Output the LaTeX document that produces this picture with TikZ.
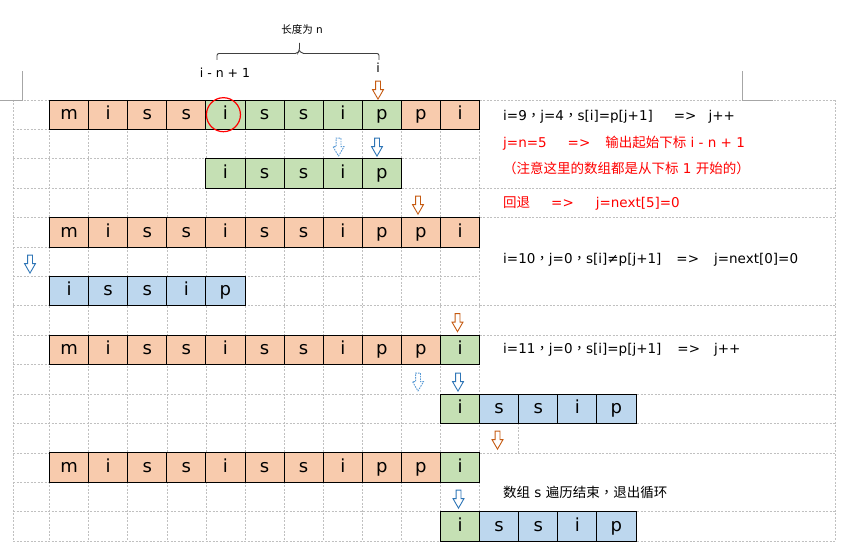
\documentclass[tikz,border=0pt]{standalone}
\usepackage{fontspec}
\setmainfont{DejaVu Sans}
\newfontfamily\cjk{Noto Sans CJK SC}
\newfontfamily\cjktc{Noto Sans CJK TC}
\usetikzlibrary{shapes.arrows}

\definecolor{sorange}{HTML}{F8CBAD}
\definecolor{sgreen}{HTML}{C5E0B4}
\definecolor{pblue}{HTML}{BDD7EE}
\definecolor{arrorange}{HTML}{C55A11}
\definecolor{arrblue}{HTML}{2E75B6}
\definecolor{arrlight}{HTML}{5B9BD5}
\definecolor{gridgray}{HTML}{C0C0C0}

\newcommand{\zhcomma}{{\cjktc ，}}

\tikzset{
  cell/.style={draw, line width=0.9pt, minimum width=39.1pt, minimum height=29.4pt,
    inner sep=0pt, text height=9.8pt, text depth=0pt, font=\fontsize{18}{20}\selectfont},
  downarr/.style={single arrow, draw=#1, fill=white, line width=0.9pt,
    shape border rotate=270, minimum height=18pt, inner sep=2pt,
    single arrow head extend=3pt, single arrow tip angle=60},
  dashedarr/.style={downarr=#1, dash pattern=on 1.6pt off 1pt},
  note/.style={anchor=base west, inner sep=0pt, font=\fontsize{13.5}{16}\selectfont},
  gridline/.style={gridgray, line width=0.6pt, dash pattern=on 2pt off 1.5pt},
  brace/.style={black!75, line width=0.9pt, rounded corners=2pt}
}

% one row of s = mississippi, cells #3..#4 in green
\newcommand{\srow}[4]{%
  \foreach \ch [count=\k from 0] in {m,i,s,s,i,s,s,i,p,p,i} {
    \ifnum\k<#3 \def\fc{sorange}\else\ifnum\k>#4 \def\fc{sorange}\else\def\fc{sgreen}\fi\fi
    \node[cell, fill=\fc] (#1-\k) at (69.05+39.1*\k, #2) {\ch};
  }}

% one row of p = issip from column #3, the first #4 cells in green
\newcommand{\prow}[4]{%
  \foreach \ch [count=\k from 0] in {i,s,s,i,p} {
    \ifnum\k<#4 \def\fc{sgreen}\else\def\fc{pblue}\fi
    \node[cell, fill=\fc] (#1-\k) at (69.05+39.1*#3+39.1*\k, #2) {\ch};
  }}

\begin{document}
\begin{tikzpicture}[x=1pt, y=-1pt]
  \useasboundingbox (0,0) rectangle (844,553);

  % table grid
  \foreach \r in {0,...,15}
    \draw[gridline] (13,100+29.4*\r) -- (479.6,100+29.4*\r);
  \foreach \r in {0,3,4,7,8,10,11,12,14,15}
    \draw[gridline] (479.6,100+29.4*\r) -- (835,100+29.4*\r);
  \foreach \c in {0,...,11}
    \draw[gridline] (49.5+39.1*\c,100) -- (49.5+39.1*\c,541);
  \draw[gridline] (13,100) -- (13,541);
  \draw[gridline] (835,100) -- (835,541);
  \draw[gridline] (518.7,423.4) -- (518.7,452.8);

  % page corner marks
  \draw[gray!70, line width=0.7pt] (0,100) -- (22,100) -- (22,71);
  \draw[gray!70, line width=0.7pt] (742,71) -- (742,100) -- (773,100);

  % s and p rows
  \srow{s0}{114.7}{4}{8}
  \prow{p0}{173.5}{4}{5}
  \srow{s1}{232.3}{99}{99}
  \prow{p1}{291.1}{0}{0}
  \srow{s2}{349.9}{10}{10}
  \prow{p2}{408.7}{10}{1}
  \srow{s3}{467.5}{10}{10}
  \prow{p3}{526.3}{10}{1}

  \node[circle, draw=red, line width=1.2pt, minimum size=34pt, inner sep=0pt]
    (hit) at ([xshift=-2pt]s0-4) {};

  % length of the match
  \node[anchor=base, font=\fontsize{12.5}{14}\selectfont] (lo) at (225,77.3) {i - n + 1};
  \node[anchor=base, font=\fontsize{12.5}{14}\selectfont] (hi) at (378,72.3) {i};
  \node[anchor=base, font=\fontsize{10.5}{12}\selectfont] (len) at (302,34) {{\cjk 长度为} n};
  \draw[brace] (217,60) |- (297.5,53.5) -- (299.5,50.5) -- (299.5,43);
  \draw[brace] (299.5,50.5) -- (301.5,53.5) -| (379,60);

  % moves
  \node[downarr=arrorange] (a0) at (378,88) {};
  \node[dashedarr=arrlight] (a1) at (338.5,145) {};
  \node[downarr=arrblue] (a2) at (377,145) {};
  \node[downarr=arrorange] (a3) at (418,203) {};
  \node[downarr=arrblue] (a4) at (30,262) {};
  \node[downarr=arrorange] (a5) at (457.5,320.5) {};
  \node[dashedarr=arrlight] (a6) at (418,380) {};
  \node[downarr=arrblue] (a7) at (458,380) {};
  \node[downarr=arrorange] (a8) at (497.5,438) {};
  \node[downarr=arrblue] (a9) at (458.5,497) {};

  % notes
  \node[note] (t0) at (503,120.5) {i=9\zhcomma j=4\zhcomma s[i]=p[j+1]\hspace{21pt}=>\hspace{12pt}j++};
  \node[note, red] (t1) at (503,147.3) {j=n=5\hspace{21pt}=>\hspace{15pt}{\cjk 输出起始下标} i - n + 1};
  \node[note, red] (t2) at (503,174) {{\cjk （注意这里的数组都是从下标} 1 {\cjk 开始的）}};
  \node[note, red] (t3) at (503,208) {{\cjk 回退}\hspace{21pt}=>\hspace{22pt}j=next[5]=0};
  \node[note] (t4) at (503,264) {i=10\zhcomma j=0\zhcomma s[i]≠p[j+1]\hspace{15pt}=>\hspace{15pt}j=next[0]=0};
  \node[note] (t5) at (503,354) {i=11\zhcomma j=0\zhcomma s[i]=p[j+1]\hspace{16pt}=>\hspace{14pt}j++};
  \node[note] (t6) at (503,497) {{\cjk 数组} s {\cjk 遍历结束}\zhcomma{\cjk 退出循环}};
\end{tikzpicture}
\end{document}
